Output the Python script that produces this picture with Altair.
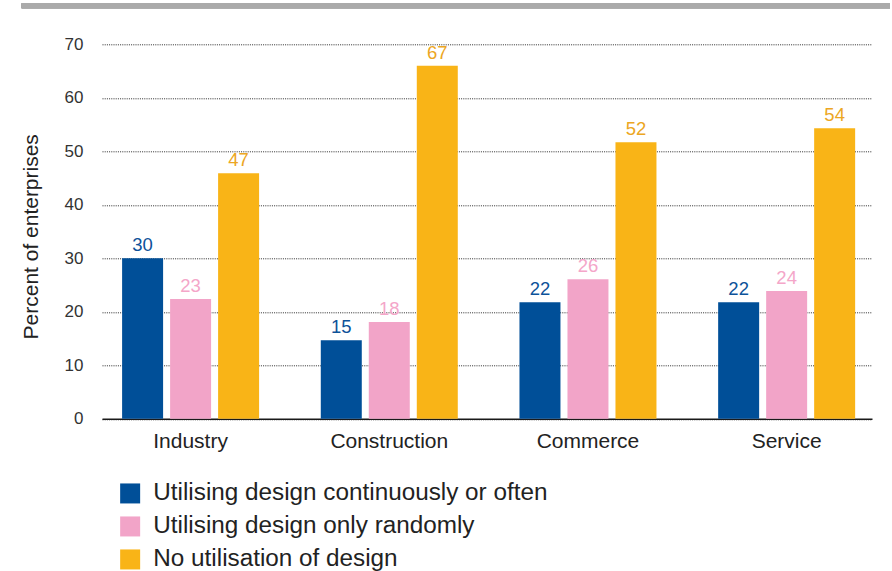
import altair as alt
import pandas as pd

categories = ["Industry", "Construction", "Commerce", "Service"]
series = [
    "Utilising design continuously or often",
    "Utilising design only randomly",
    "No utilisation of design",
]
# bar heights (percent)
often_values = [30.0, 14.7, 21.8, 21.8]
random_values = [22.4, 18.1, 26.1, 23.9]
none_values = [45.9, 66.0, 51.7, 54.3]
# printed value labels
often_labels = ["30", "15", "22", "22"]
random_labels = ["23", "18", "26", "24"]
none_labels = ["47", "67", "52", "54"]

bar_colors = ["#004f98", "#f2a4c8", "#f9b417"]
label_colors = ["#0d5299", "#f4a6c9", "#eca623"]

rows = []
for s, vals, labs in zip(series, [often_values, random_values, none_values],
                         [often_labels, random_labels, none_labels]):
    for c, v, l in zip(categories, vals, labs):
        rows.append({"category": c, "series": s, "value": v, "label": l})
df = pd.DataFrame(rows)

FONT = "Liberation Sans"
W, H = 770, 374.5

x_enc = alt.X(
    "category:N",
    sort=categories,
    scale=alt.Scale(paddingInner=0.3105, paddingOuter=0.093, align=0.544),
    axis=alt.Axis(
        title=None, labelAngle=0, labelFontSize=21, labelColor="#222222",
        labelFont=FONT, labelBaseline="alphabetic", labelPadding=29,
        ticks=False, domain=True, domainColor="#1a1a1a", domainWidth=1.5,
        grid=False,
    ),
)
xoff_enc = alt.XOffset(
    "series:N", sort=series,
    scale=alt.Scale(paddingInner=0.146, paddingOuter=0),
)
y_scale = alt.Scale(domain=[0, 70], nice=False, zero=True)

bars = alt.Chart(df).mark_bar().encode(
    x=x_enc,
    xOffset=xoff_enc,
    y=alt.Y(
        "value:Q", scale=y_scale,
        axis=alt.Axis(
            title="Percent of enterprises", values=[0, 10, 20, 30, 40, 50, 60, 70],
            labelFontSize=17, labelColor="#333333", labelFont=FONT,
            labelPadding=19, ticks=False, domain=False,
            grid=True, gridColor="#2a2a2a", gridDash=[1, 1.2], gridWidth=1,
            titleFont=FONT, titleFontSize=21, titleFontWeight="normal",
            titleColor="#222222", titleAngle=-90, titleBaseline="alphabetic",
            titleAlign="center", titleX=-64.7, titleY=192,
        ),
    ),
    color=alt.Color(
        "series:N", sort=series,
        scale=alt.Scale(domain=series, range=bar_colors),
        legend=alt.Legend(
            title=None, orient="none", legendX=16, legendY=437,
            direction="vertical", symbolType="square", symbolSize=400,
            symbolStrokeWidth=0, symbolOpacity=1,
            labelFontSize=24.3, labelFont=FONT, labelColor="#222222",
            labelOffset=11, rowPadding=8, padding=0, labelLimit=600,
        ),
    ),
)

texts = alt.Chart(df).mark_text(
    dy=-7, baseline="alphabetic", align="center", fontSize=18.5, font=FONT,
).encode(
    x=alt.X("category:N", sort=categories),
    xOffset=alt.XOffset("series:N", sort=series),
    y=alt.Y("value:Q", scale=y_scale),
    text="label:N",
    color=alt.Color(
        "series:N", sort=series,
        scale=alt.Scale(domain=series, range=label_colors), legend=None,
    ),
)

top_bar = alt.Chart(df).mark_rule(color="#aaaaaa", strokeWidth=5, strokeCap="butt").encode(
    x=alt.value(-80.3), x2=alt.value(788), y=alt.value(-38.5)
)

chart = (
    alt.layer(bars, texts, top_bar)
    .resolve_scale(color="independent")
    .properties(
        width=W, height=H,
        background="white",
        padding={"left": 102, "top": 44.3, "right": 20, "bottom": 152},
        autosize=alt.AutoSizeParams(type="none"),
    )
    .configure_view(strokeWidth=0, stroke="transparent")
)

chart.save("out.html", embed_options={"renderer": "svg", "actions": False})
